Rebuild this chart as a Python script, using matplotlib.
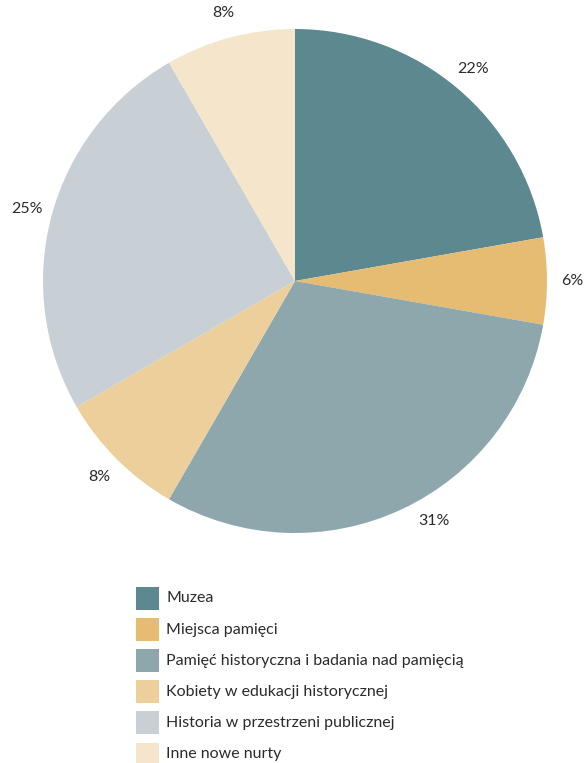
import matplotlib
matplotlib.use("Agg")
import numpy as np
import matplotlib.pyplot as plt
from matplotlib.patches import Rectangle

# Topics of submitted projects (counts) and their colours
categories = [
    "Muzea",
    "Miejsca pamięci",
    "Pamięć historyczna i badania nad pamięcią",
    "Kobiety w edukacji historycznej",
    "Historia w przestrzeni publicznej",
    "Inne nowe nurty",
]
counts = [24, 6, 33, 9, 27, 9]
colors = ["#5C8890", "#E5BC72", "#8DA7AD", "#EDCF9B", "#C8D0D5", "#F5E6CB"]

plt.rcParams["font.family"] = ["Lato", "DejaVu Sans"]
text_color = "#2b2b2b"

W, H = 584, 763
fig = plt.figure(figsize=(W / 100, H / 100), dpi=100)

# Pie axes: centre (295, 281) px, radius 252 px
cx, cy, r = 295, 281, 252
ax = fig.add_axes([(cx - r) / W, (H - cy - r) / H, 2 * r / W, 2 * r / H])
wedges, texts, autotexts = ax.pie(
    counts,
    colors=colors,
    startangle=90,
    counterclock=False,
    radius=1.0,
    autopct=lambda p: f"{p:.0f}%",
    pctdistance=1.1,
    wedgeprops=dict(linewidth=0),
    textprops=dict(color=text_color, fontsize=11.5),
)
# the large lower slice carries its label a little to the right of its middle
ang = np.deg2rad(-60)
autotexts[2].set_position((1.1 * np.cos(ang), 1.1 * np.sin(ang)))
ax.set_xlim(-1, 1)
ax.set_ylim(-1, 1)
ax.set_axis_off()

# Legend drawn as coloured squares with labels
x0, size = 136, 23
row0, step = 598.5, 31.1
for i, (label, col) in enumerate(zip(categories, colors)):
    yc = row0 + i * step
    fig.add_artist(Rectangle((x0 / W, (H - yc - size / 2) / H), size / W, size / H,
                             transform=fig.transFigure, facecolor=col, edgecolor="none"))
    fig.text(166 / W, (H - yc) / H, label, fontsize=11.5, color=text_color,
             ha="left", va="center")

fig.savefig("out.png", dpi=100, facecolor="white")
